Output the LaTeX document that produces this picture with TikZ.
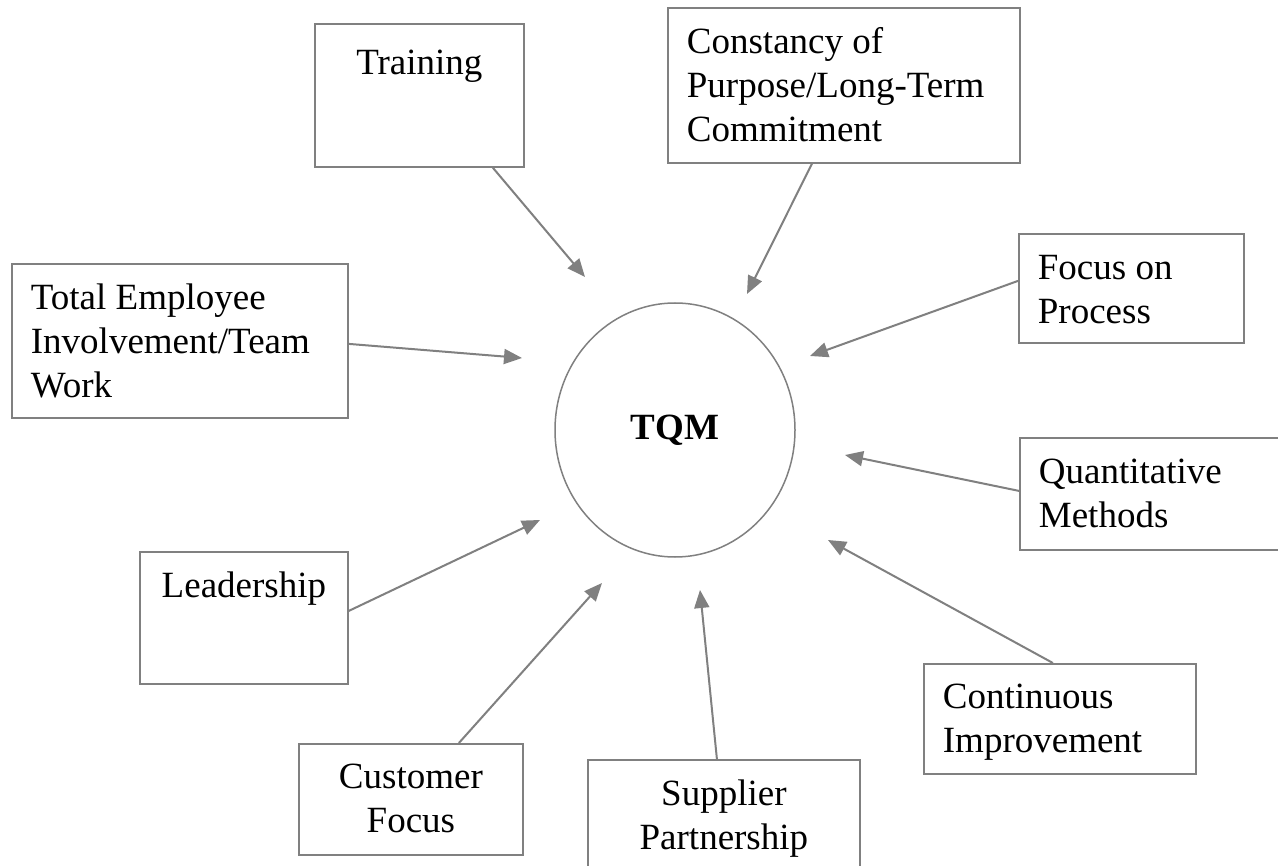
\documentclass[tikz,border=0pt]{standalone}
\usepackage{fontspec}
\setmainfont{Liberation Serif}
\usetikzlibrary{arrows.meta,shapes.geometric}
\definecolor{linegray}{HTML}{808080}
\newcommand\lbox[4]{\parbox[t][#2][t]{#1}{\raggedright\leftskip=19pt\fontsize{37}{44}\selectfont\rule{0pt}{#3}#4}}
\newcommand\cbox[4]{\parbox[t][#2][t]{#1}{\centering\fontsize{37}{44}\selectfont\rule{0pt}{#3}#4}}
\begin{document}
\begin{tikzpicture}[x=1pt,y=-1pt,
  box/.style={draw=linegray, line width=1.8pt, inner sep=0pt, anchor=north west},
  hub/.style={ellipse, draw=linegray, line width=1.5pt, inner sep=0pt},
  arr/.style={draw=linegray, line width=2pt, -{Triangle[length=18pt,width=15pt]}}]
\useasboundingbox (0,0) rectangle (1278,866);
\clip (0,0) rectangle (1278,866);
\fill[white] (0,0) rectangle (1278,866);

\node[box] (train) at (314,23) {\cbox{209pt}{143pt}{51pt}{Training}};
\node[box] (const) at (667,7) {\lbox{352pt}{155pt}{46pt}{Constancy of\\Purpose/Long-Term\\Commitment}};
\node[box] (focus) at (1018,233) {\lbox{225pt}{109pt}{46pt}{Focus on\\Process}};
\node[box] (team) at (11,263) {\lbox{336pt}{154pt}{46pt}{Total Employee\\Involvement/Team\\Work}};
\node[hub, minimum width=240pt, minimum height=254pt] (tqm) at (675,430) {\fontsize{37}{44}\selectfont\bfseries TQM};
\node[box] (quant) at (1019,437) {\lbox{280pt}{112pt}{46pt}{Quantitative\\Methods}};
\node[box] (lead) at (139,551) {\cbox{208pt}{132pt}{46pt}{Leadership}};
\node[box] (cont) at (923,663) {\lbox{272pt}{110pt}{45pt}{Continuous\\Improvement}};
\node[box] (cust) at (298,743) {\cbox{224pt}{111pt}{45pt}{Customer\\Focus}};
\node[box] (supp) at (587,759) {\cbox{272pt}{130pt}{46pt}{Supplier\\Partnership}};

\coordinate (t1) at (585,277);
\coordinate (t2) at (747,294);
\coordinate (t3) at (810,356);
\coordinate (t4) at (522,358);
\coordinate (t5) at (845,455);
\coordinate (t6) at (540,520);
\coordinate (t7) at (828,540);
\coordinate (t8) at (602,583);
\coordinate (t9) at (700,590);

\draw[arr] ([xshift=73.5pt]train.south) -- (t1);
\draw[arr] ([xshift=-32pt]const.south) -- (t2);
\draw[arr] ([yshift=7.5pt]focus.west) -- (t3);
\draw[arr] ([yshift=-3pt]team.east) -- (t4);
\draw[arr] ([yshift=3pt]quant.west) -- (t5);
\draw[arr] ([yshift=7pt]lead.east) -- (t6);
\draw[arr] ([xshift=-7pt]cont.north) -- (t7);
\draw[arr] ([xshift=48pt]cust.north) -- (t8);
\draw[arr] ([xshift=-7pt]supp.north) -- (t9);
\end{tikzpicture}
\end{document}
